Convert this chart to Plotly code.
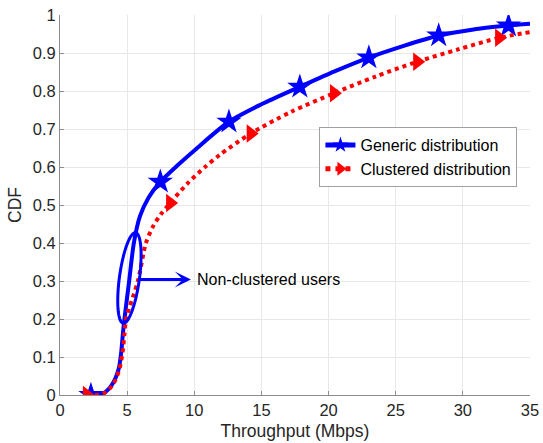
import math
import plotly.graph_objects as go

# ---- data ----
generic_x = [2.3, 3.2, 3.85, 4.35, 4.55, 4.68, 4.8, 5.15, 5.5, 5.95, 6.6, 7.47, 8.8, 10.05, 12.58, 15.0, 17.86, 20.4, 23.0, 28.2, 30.8, 33.4, 35.0]
generic_y = [0.0, 0.004, 0.026, 0.066, 0.11, 0.16, 0.2, 0.3, 0.4, 0.47, 0.52, 0.561, 0.606, 0.645, 0.719, 0.765, 0.811, 0.851, 0.888, 0.946, 0.962, 0.972, 0.977]
generic_marker_x = [2.3, 7.47, 12.58, 17.86, 23.0, 28.2, 33.4]

clustered_x = [2.0, 3.2, 3.9, 4.4, 4.65, 4.8, 4.92, 5.8, 6.4, 6.95, 7.5, 8.2, 9.5, 10.8, 11.9, 14.2, 17.2, 20.4, 23.5, 26.6, 29.7, 32.7, 35.0]
clustered_y = [0.0, 0.003, 0.025, 0.065, 0.11, 0.16, 0.2, 0.3, 0.4, 0.445, 0.475, 0.505, 0.557, 0.6, 0.632, 0.688, 0.745, 0.794, 0.838, 0.877, 0.91, 0.94, 0.955]
clustered_marker_x = [2.0, 8.2, 14.2, 20.4, 26.6, 32.7]

series_names = ["Generic distribution", "Clustered distribution"]
x_ticks = [0, 5, 10, 15, 20, 25, 30, 35]
y_ticks = [0, 0.1, 0.2, 0.3, 0.4, 0.5, 0.6, 0.7, 0.8, 0.9, 1]
annot_text = "Non-clustered users"

# ---- layout geometry ----
W, H = 543, 443
ML, MR, MT, MB = 60, 13, 15, 48
XR = [0, 35]
YR = [0, 1]
pw = W - ML - MR
ph = H - MT - MB
sx = pw / (XR[1] - XR[0])
sy = ph / (YR[1] - YR[0])

FONT = "Liberation Sans, Arial, sans-serif"
BLUE = "#0000ff"
RED = "#ff0000"

def sizes(xs, mx, s):
    return [s if x in mx else 0 for x in xs]

fig = go.Figure()
fig.add_trace(go.Scatter(
    x=generic_x, y=generic_y, name=series_names[0], mode="lines+markers",
    line=dict(color=BLUE, width=4, shape="spline", smoothing=0.8),
    marker=dict(symbol="star", color=BLUE, opacity=1, size=sizes(generic_x, generic_marker_x, 19),
                line=dict(width=0)),
))
fig.add_trace(go.Scatter(
    x=clustered_x, y=clustered_y, name=series_names[1], mode="lines+markers",
    line=dict(color=RED, width=4, dash="dot", shape="spline", smoothing=0.8),
    marker=dict(symbol="triangle-right", color=RED, opacity=1, size=sizes(clustered_x, clustered_marker_x, 16),
                line=dict(width=0)),
))

# ellipse annotation (pixel geometry converted to data units)
cx, cy = 5.17, 0.308
a_px, b_px = 45.7, 10.0
ang = math.atan2(90.6, 12.4)  # major axis direction in pixel space
pts = []
for i in range(73):
    t = 2 * math.pi * i / 72
    u = a_px * math.cos(t)
    v = b_px * math.sin(t)
    px = u * math.cos(ang) - v * math.sin(ang)
    py = u * math.sin(ang) + v * math.cos(ang)
    pts.append((cx + px / sx, cy + py / sy))
path = "M " + " L ".join(f"{x:.4f},{y:.4f}" for x, y in pts) + " Z"
fig.add_shape(type="path", path=path, xref="x", yref="y",
              line=dict(color=BLUE, width=3))

fig.add_annotation(x=9.75, y=0.304, ax=5.83, ay=0.304, axref="x", ayref="y",
                   xref="x", yref="y", text="", showarrow=True, arrowhead=3,
                   arrowsize=0.9, arrowwidth=3, arrowcolor=BLUE, standoff=0, startstandoff=0)
fig.add_annotation(x=10.05, y=0.304, xref="x", yref="y", text=annot_text, showarrow=False,
                   xanchor="left", yanchor="middle", font=dict(family=FONT, size=16, color="#000000"))

axis_common = dict(showgrid=True, gridcolor="#e8e8e8", gridwidth=1, zeroline=False,
                   showline=True, linecolor="#8c8c8c", linewidth=1,
                   ticks="inside", ticklen=4, tickcolor="#8c8c8c", automargin=False,
                   tickfont=dict(family=FONT, size=16.5, color="#262626"))

fig.update_layout(
    width=W, height=H, margin=dict(l=ML, r=MR, t=MT, b=MB),
    paper_bgcolor="white", plot_bgcolor="white",
    xaxis=dict(range=XR, tickvals=x_ticks, title=dict(text="Throughput (Mbps)",
               font=dict(family=FONT, size=17.5, color="#262626"), standoff=6), **axis_common),
    yaxis=dict(range=YR, tickvals=y_ticks, title=dict(text="CDF",
               font=dict(family=FONT, size=17.5, color="#262626"), standoff=6), **axis_common),
    legend=dict(x=0.552, y=0.705, xanchor="left", yanchor="top", bgcolor="white",
                bordercolor="#a0a0a0", borderwidth=1, itemsizing="constant", itemwidth=30,
                font=dict(family=FONT, size=16, color="#000000"), tracegroupgap=0),
    showlegend=True,
)

fig.write_html("out.html")
